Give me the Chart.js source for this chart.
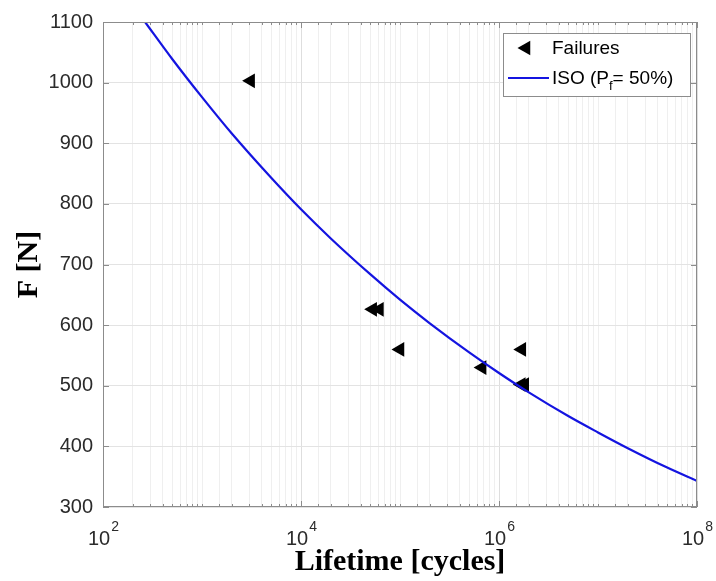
<!DOCTYPE html>
<html><head><meta charset="utf-8">
<script src="https://cdn.jsdelivr.net/npm/chart.js@4/dist/chart.umd.min.js"></script>
<style>html,body{margin:0;padding:0;background:#fff}#wrap{width:716px;height:581px;position:relative}</style>
</head><body><div id="wrap"><canvas id="c" width="716" height="581"></canvas></div>
<script>
// ---- data ----
const failureCycles = [3100, 53000, 62000, 100000, 675000, 1700000, 1680000, 1820000];
const failureForce  = [1003, 626, 626, 560, 530, 560, 502, 502];
const isoCycles = [266, 500, 1000, 2000, 5000, 1e4, 2e4, 5e4, 1e5, 2e5, 5e5, 1e6, 2e6, 5e6, 1e7, 2e7, 5e7, 1e8];
const isoForce  = [1100, 1039, 976, 916, 843, 791, 743, 684, 642, 603, 555, 521, 489, 450, 423, 397, 365, 343];
const xTickExponents = [2, 4, 6, 8];
const yTickValues = [300, 400, 500, 600, 700, 800, 900, 1000, 1100];
const seriesLabels = ['Failures', 'ISO (P_f= 50%)'];
const xTitle = 'Lifetime [cycles]';
const yTitle = 'F [N]';

const SANS = '"Liberation Sans", Arial, sans-serif';
const SERIF = '"Liberation Serif", "Times New Roman", serif';
const AXIS_COLOR = '#8c8c8c';
const LABEL_COLOR = '#2b2b2b';
const LINE_COLOR = '#1414e0';

function isEvenDecade(v) {
  const e = Math.log10(v);
  return Math.abs(e - Math.round(e)) < 1e-9 && xTickExponents.includes(Math.round(e));
}

const framePlugin = {
  id: 'frame',
  afterDatasetsDraw(chart) {
    const {ctx, chartArea: a, scales: {x, y}} = chart;
    ctx.save();
    ctx.strokeStyle = AXIS_COLOR;
    ctx.lineWidth = 1;
    ctx.strokeRect(Math.round(a.left) + 0.5, Math.round(a.top) + 0.5,
                   Math.round(a.right - a.left) - 1, Math.round(a.bottom - a.top) - 1);
    ctx.beginPath();
    x.ticks.forEach(t => {
      const px = Math.round(x.getPixelForValue(t.value)) + 0.5;
      if (px < a.left - 1 || px > a.right + 1) return;
      const len = isEvenDecade(t.value) ? 6 : 3;
      ctx.moveTo(px, a.bottom); ctx.lineTo(px, a.bottom - len);
      ctx.moveTo(px, a.top); ctx.lineTo(px, a.top + len);
    });
    y.ticks.forEach(t => {
      const py = Math.round(y.getPixelForValue(t.value)) + 0.5;
      ctx.moveTo(a.left, py); ctx.lineTo(a.left + 6, py);
      ctx.moveTo(a.right, py); ctx.lineTo(a.right - 6, py);
    });
    ctx.stroke();
    // x tick labels 10^n with superscript
    ctx.fillStyle = LABEL_COLOR;
    ctx.textBaseline = 'alphabetic';
    ctx.textAlign = 'left';
    xTickExponents.forEach(e => {
      const px = x.getPixelForValue(Math.pow(10, e));
      ctx.font = '20px ' + SANS;
      const wb = ctx.measureText('10').width;
      ctx.font = '14px ' + SANS;
      const we = ctx.measureText(String(e)).width;
      const start = px - (wb + we) / 2;
      ctx.font = '20px ' + SANS;
      ctx.fillText('10', start, 545);
      ctx.font = '14px ' + SANS;
      ctx.fillText(String(e), start + wb + 1, 531);
    });
    ctx.restore();
  }
};

const legendPlugin = {
  id: 'customLegend',
  afterDraw(chart) {
    const {ctx} = chart;
    const bx = 503, by = 33, bw = 187, bh = 63;
    ctx.save();
    ctx.fillStyle = '#fff';
    ctx.fillRect(bx, by, bw, bh);
    ctx.strokeStyle = '#8c8c8c';
    ctx.lineWidth = 1;
    ctx.strokeRect(bx + 0.5, by + 0.5, bw, bh);
    // row 1: triangle marker
    const r = 8.5, tx = 526, ty = 48;
    ctx.fillStyle = '#000';
    ctx.beginPath();
    ctx.moveTo(tx - r, ty);
    ctx.lineTo(tx + r / 2, ty - r * Math.sqrt(3) / 2);
    ctx.lineTo(tx + r / 2, ty + r * Math.sqrt(3) / 2);
    ctx.closePath();
    ctx.fill();
    ctx.font = '19px ' + SANS;
    ctx.fillStyle = '#000';
    ctx.textBaseline = 'middle';
    ctx.fillText(chart.data.datasets[0].label, 552, ty + 1);
    // row 2: line sample
    const ly = 78;
    ctx.strokeStyle = LINE_COLOR;
    ctx.lineWidth = 2;
    ctx.beginPath(); ctx.moveTo(508, ly); ctx.lineTo(549, ly); ctx.stroke();
    const label = chart.data.datasets[1].label;
    const parts = label.split('_');
    let cx = 552;
    ctx.font = '19px ' + SANS;
    ctx.fillText(parts[0], cx, ly + 1);
    cx += ctx.measureText(parts[0]).width;
    const sub = parts[1].charAt(0);
    const rest = parts[1].slice(1);
    ctx.font = '13px ' + SANS;
    ctx.fillText(sub, cx, ly + 8);
    cx += ctx.measureText(sub).width;
    ctx.font = '19px ' + SANS;
    ctx.fillText(rest, cx, ly + 1);
    ctx.restore();
  }
};

const failurePoints = failureCycles.map((n, i) => ({x: n, y: failureForce[i]}));
const isoPoints = isoCycles.map((n, i) => ({x: n, y: isoForce[i]}));

new Chart(document.getElementById('c'), {
  type: 'scatter',
  data: {
    datasets: [
      {
        label: seriesLabels[0],
        data: failurePoints,
        pointStyle: 'triangle',
        rotation: -90,
        pointRadius: 8.5,
        pointHoverRadius: 8.5,
        backgroundColor: '#000',
        borderColor: '#000',
        borderWidth: 0,
        order: 2
      },
      {
        label: seriesLabels[1],
        data: isoPoints,
        showLine: true,
        pointRadius: 0,
        borderColor: LINE_COLOR,
        backgroundColor: LINE_COLOR,
        borderWidth: 2.2,
        tension: 0.4,
        cubicInterpolationMode: 'monotone',
        order: 1
      }
    ]
  },
  options: {
    responsive: false,
    animation: false,
    devicePixelRatio: 1,
    layout: {padding: {top: 21, right: 19, bottom: 0, left: 0}},
    plugins: {legend: {display: false}, tooltip: {enabled: false}},
    scales: {
      x: {
        type: 'logarithmic',
        min: 100, max: 1e8,
        afterFit(s) { s.height = 74; },
        border: {display: false},
        grid: {
          drawTicks: false,
          color: c => (c.tick && isEvenDecade(c.tick.value)) ? '#dedede' : '#efefef',
          lineWidth: 1
        },
        ticks: {display: false, autoSkip: false},
        title: {
          display: true, text: xTitle, color: '#000',
          font: {family: SERIF, size: 30, weight: 'bold'},
          padding: {top: 0, bottom: 1}
        }
      },
      y: {
        type: 'linear',
        min: 300, max: 1100,
        afterFit(s) { s.width = 103; },
        afterBuildTicks(s) { s.ticks = yTickValues.map(v => ({value: v})); },
        border: {display: false},
        grid: {drawTicks: false, color: '#e3e3e3', lineWidth: 1},
        ticks: {
          color: LABEL_COLOR, padding: 10,
          font: {family: SANS, size: 20},
          callback: v => String(v)
        },
        title: {
          display: true, text: yTitle, color: '#000',
          font: {family: SERIF, size: 30, weight: 'bold'},
          padding: {top: 11, bottom: 0}
        }
      }
    }
  },
  plugins: [framePlugin, legendPlugin]
});
</script>
</body></html>
